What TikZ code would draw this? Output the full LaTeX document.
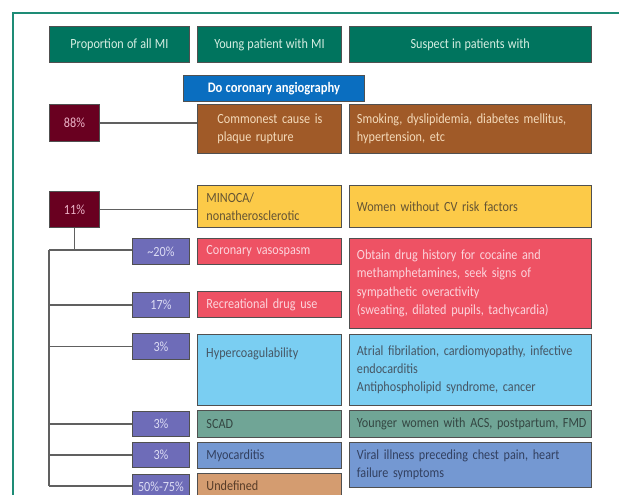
\documentclass[tikz,border=0pt]{standalone}
\usepackage{fontspec}
\setmainfont{Carlito}[FakeStretch=0.87]
\definecolor{frameteal}{RGB}{30,140,118}
\definecolor{headfill}{RGB}{0,116,94}
\definecolor{headtext}{RGB}{214,238,226}
\definecolor{cagblue}{RGB}{10,110,192}
\definecolor{maroon}{RGB}{105,0,32}
\definecolor{maroontext}{RGB}{236,180,200}
\definecolor{brownfill}{RGB}{160,90,40}
\definecolor{browntext}{RGB}{244,218,186}
\definecolor{yellowfill}{RGB}{252,202,72}
\definecolor{yellowtext}{RGB}{100,84,52}
\definecolor{redfill}{RGB}{238,82,100}
\definecolor{redtext}{RGB}{252,212,220}
\definecolor{purplefill}{RGB}{110,108,184}
\definecolor{purpletext}{RGB}{220,220,244}
\definecolor{skyfill}{RGB}{122,206,242}
\definecolor{skytext}{RGB}{70,86,100}
\definecolor{scadfill}{RGB}{112,165,150}
\definecolor{scadtext}{RGB}{52,70,66}
\definecolor{myofill}{RGB}{116,152,210}
\definecolor{myotext}{RGB}{50,64,96}
\definecolor{undeffill}{RGB}{212,156,112}
\definecolor{undeftext}{RGB}{88,60,40}
\definecolor{boxline}{RGB}{80,80,80}
\definecolor{wire}{RGB}{96,96,96}
% body text: 14pt on 18.3pt lines, with tight word spaces
\newcommand{\boxfont}{\fontsize{14}{18.3}\selectfont\spaceskip=3.2pt plus 1pt minus 0.5pt\relax}
\begin{document}
\begin{tikzpicture}[x=1pt,y=-1pt,
  box/.style={draw=boxline, line width=0.9pt, anchor=north west,
    inner ysep=0pt, font=\boxfont},
  head/.style={box, fill=headfill, text=headtext, minimum height=36pt},
  pct/.style={box, align=center},
  leftcol/.style={box, inner xsep=9pt, text width=126pt, align=left, minimum width=144pt},
  rightcol/.style={box, inner xsep=8pt, text width=226.5pt, align=left, minimum width=242.5pt},
  wireline/.style={draw=wire, line width=1.3pt}]
\useasboundingbox (0,0) rectangle (619,495);
\clip (0,0) rectangle (619,495);

% outer frame
\draw[frameteal, line width=2pt] (13,13) rectangle (680,560);

% column headings
\node[head, minimum width=140pt] (h1) at (49,26) {Proportion of all MI};
\node[head, minimum width=144pt] (h2) at (197,26) {Young patient with MI};
\node[head, minimum width=242.5pt] (h3) at (348.5,26) {Suspect in patients with};

\node[box, fill=cagblue, text=white, minimum width=181pt, minimum height=26pt,
  font=\boxfont\fontsize{14.5}{16}\selectfont\bfseries] (cag) at (183,75) {Do coronary angiography};

% atherosclerotic branch
\node[pct, fill=maroon, text=maroontext, minimum width=50pt, minimum height=37pt] (p88) at (49,104) {88\%};
\node[box, fill=brownfill, text=browntext, inner xsep=20pt, text width=104pt, align=left,
  minimum width=144pt, minimum height=49pt] (cad) at (197,104) {\mbox{Commonest cause is}\\\mbox{plaque rupture}};
\node[rightcol, fill=brownfill, text=browntext, minimum height=49pt] (cadR) at (348.5,104)
  {Smoking, dyslipidemia, diabetes mellitus,\\hypertension, etc};

% non-atherosclerotic branch
\node[pct, fill=maroon, text=maroontext, minimum width=50pt, minimum height=36pt] (p11) at (49,191) {11\%};
\node[leftcol, fill=yellowfill, text=yellowtext, minimum height=42pt] (mino) at (197,185)
  {MINOCA/\\nonatherosclerotic};
\node[rightcol, fill=yellowfill, text=yellowtext, minimum height=42pt] (minoR) at (348.5,185)
  {Women without CV risk factors};

% percentages of the MINOCA causes
\node[pct, fill=purplefill, text=purpletext, minimum width=57pt, minimum height=26pt] (v20) at (132,238) {\textasciitilde20\%};
\node[pct, fill=purplefill, text=purpletext, minimum width=57pt, minimum height=25pt] (v17) at (132,292) {17\%};
\node[pct, fill=purplefill, text=purpletext, minimum width=57pt, minimum height=26pt] (v3a) at (132,333) {3\%};
\node[pct, fill=purplefill, text=purpletext, minimum width=57pt, minimum height=25pt] (v3b) at (132,411) {3\%};
\node[pct, fill=purplefill, text=purpletext, minimum width=57pt, minimum height=25pt] (v3c) at (132,442) {3\%};
\node[pct, fill=purplefill, text=purpletext, minimum width=57pt, minimum height=30pt] (v50) at (132,474) {\raisebox{5pt}{50\%-75\%}};

% causes
\node[leftcol, fill=redfill, text=redtext, minimum height=26pt] (spasm) at (197,238) {Coronary vasospasm};
\node[leftcol, fill=redfill, text=redtext, minimum height=26pt] (drug) at (197,291) {Recreational drug use};
\node[leftcol, fill=skyfill, text=skytext, minimum height=71pt] (hyp) at (197,334) {};
\node[anchor=base west, inner sep=0pt, text=skytext, font=\boxfont] (hypt) at (206,357) {Hypercoagulability};
\node[leftcol, fill=scadfill, text=scadtext, minimum height=27pt] (scad) at (197,410) {SCAD};
\node[leftcol, fill=myofill, text=myotext, minimum height=26pt] (myo) at (197,442) {Myocarditis};
\node[leftcol, fill=undeffill, text=undeftext, minimum height=30pt] (undef) at (197,473) {\raisebox{5pt}{Undefined}};

% clinical clues
\node[rightcol, fill=redfill, text=redtext, minimum height=90pt] (drugR) at (348.5,238)
  {Obtain drug history for cocaine and\\methamphetamines, seek signs of\\sympathetic overactivity\\(sweating, dilated pupils, tachycardia)};
\node[rightcol, fill=skyfill, text=skytext, minimum height=71pt] (hypR) at (348.5,334)
  {Atrial fibrilation, cardiomyopathy, infective\\endocarditis\\Antiphospholipid syndrome, cancer};
\node[rightcol, fill=scadfill, text=scadtext, minimum height=27pt] (scadR) at (348.5,410)
  {\mbox{Younger women with ACS, postpartum, FMD}};
\node[rightcol, fill=myofill, text=myotext, minimum height=45pt] (myoR) at (348.5,442)
  {Viral illness preceding chest pain, heart\\failure symptoms};

% connectors
\coordinate (spine) at (49,250);
\draw[wireline] (p88.east) -- (p88.east -| cad.west);
\draw[wireline] (p11.east) -- (p11.east -| mino.west);
\draw[wireline] (p11.south) -- (p11.south |- spine);
\draw[wireline] (spine) -- (spine |- 0,486);
\draw[wireline] (spine) -- (spine -| v20.west);
\draw[wireline] (spine |- v17.west) -- (v17.west);
\draw[wireline] (spine |- v3a.west) -- (v3a.west);
\draw[wireline] (spine |- v3b.west) -- (v3b.west);
\draw[wireline] (spine |- v3c.west) -- (v3c.west);
\draw[wireline] (spine |- 0,486) -- (v50.west |- 0,486);
\end{tikzpicture}
\end{document}
